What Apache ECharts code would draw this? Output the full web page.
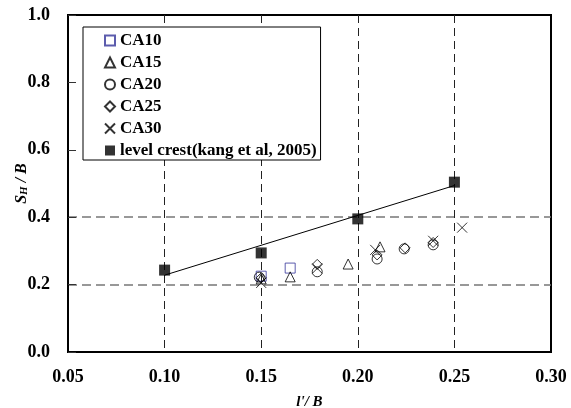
<!DOCTYPE html>
<html>
<head>
<meta charset="utf-8">
<script src="https://cdn.jsdelivr.net/npm/echarts@6/dist/echarts.min.js"></script>
<style>
  html, body { margin: 0; padding: 0; background: #fff; }
  #chart { width: 571px; height: 408px; }
</style>
</head>
<body>
<div id="chart"></div>
<script>
// values: [l'/B, S_H/B]
const ca10 = [[0.150, 0.225], [0.165, 0.249]]
const ca15 = [[0.150, 0.217], [0.165, 0.223], [0.195, 0.261], [0.2115, 0.312]]
const ca20 = [[0.149, 0.222], [0.179, 0.238], [0.210, 0.276], [0.224, 0.306], [0.239, 0.318]]
const ca25 = [[0.150, 0.220], [0.179, 0.260], [0.210, 0.288], [0.2245, 0.309], [0.239, 0.325]]
const ca30 = [[0.150, 0.205], [0.179, 0.248], [0.209, 0.303], [0.239, 0.330], [0.254, 0.369]]
const levelCrest = [[0.10, 0.243], [0.15, 0.294], [0.20, 0.395], [0.25, 0.504]]
const trendLine = [[0.10, 0.228], [0.25, 0.494]]

const seriesNames = ['CA10', 'CA15', 'CA20', 'CA25', 'CA30', 'level crest(kang et al, 2005)']
const crossPath = 'path://M0,0L10,10M10,0L0,10'
const font = 'Liberation Serif'
// only the 0.2 and 0.4 grid lines are drawn in the original
const hGridColors = ['rgba(0,0,0,0)', '#777', '#777', 'rgba(0,0,0,0)', 'rgba(0,0,0,0)', 'rgba(0,0,0,0)']

const chart = echarts.init(document.getElementById('chart'))

function openMarker (name, data, symbol, color) {
  return {
    name: name,
    type: 'scatter',
    data: data,
    symbol: symbol,
    symbolSize: 10,
    itemStyle: { color: 'rgba(0,0,0,0)', borderColor: color, borderWidth: 1 },
    z: 3
  }
}

chart.setOption({
  animation: false,
  textStyle: { fontFamily: font },
  grid: {
    left: 68, right: 20, top: 15, bottom: 56,
    outerBoundsMode: 'none',
    containLabel: false,
    show: true,
    borderColor: '#000',
    borderWidth: 2
  },
  legend: {
    orient: 'vertical',
    left: 83,
    top: 27,
    data: seriesNames,
    itemWidth: 10,
    itemHeight: 10,
    itemGap: 5,
    padding: [5, 4, 1, 21],
    backgroundColor: '#fff',
    borderColor: '#000',
    borderWidth: 1,
    textStyle: { fontFamily: font, fontWeight: 'bold', fontSize: 17, color: '#000' }
  },
  xAxis: {
    type: 'value',
    min: 0.05,
    max: 0.30,
    interval: 0.05,
    name: "l'/ B",
    nameLocation: 'middle',
    nameGap: 43,
    nameTextStyle: { fontFamily: font, fontStyle: 'italic', fontWeight: 'bold', fontSize: 15, color: '#000' },
    axisLine: { show: true, lineStyle: { color: '#000', width: 2 } },
    axisTick: { show: false },
    axisLabel: {
      margin: 16,
      fontFamily: font, fontWeight: 'bold', fontSize: 18, color: '#000',
      formatter: v => v.toFixed(2)
    },
    splitLine: {
      show: true,
      showMinLine: false,
      showMaxLine: false,
      lineStyle: { color: '#222', type: [8, 5], width: 1 }
    }
  },
  yAxis: {
    type: 'value',
    min: 0,
    max: 1,
    interval: 0.2,
    name: '{i|S}{sub|H}{n| / B}',
    nameLocation: 'middle',
    nameRotate: 90,
    nameGap: 38,
    nameMoveOverlap: false,
    nameTextStyle: {
      rich: {
        i: { fontFamily: font, fontStyle: 'italic', fontWeight: 'bold', fontSize: 16, color: '#000' },
        sub: { fontFamily: font, fontStyle: 'italic', fontWeight: 'bold', fontSize: 11, color: '#000', verticalAlign: 'bottom', padding: [6, 0, 0, 0] },
        n: { fontFamily: font, fontStyle: 'italic', fontWeight: 'bold', fontSize: 16, color: '#000' }
      }
    },
    axisLine: { show: true, lineStyle: { color: '#000', width: 2 } },
    axisTick: { show: true, inside: true, length: 8, lineStyle: { color: '#333', width: 1 } },
    axisLabel: {
      margin: 18,
      fontFamily: font, fontWeight: 'bold', fontSize: 18, color: '#000',
      formatter: v => v.toFixed(1)
    },
    splitLine: {
      show: true,
      showMinLine: true,
      showMaxLine: true,
      lineStyle: { color: hGridColors, type: [9, 5], width: 1.5 }
    }
  },
  series: [
    openMarker('CA10', ca10, 'rect', '#333399'),
    openMarker('CA15', ca15, 'triangle', '#000'),
    openMarker('CA20', ca20, 'circle', '#000'),
    openMarker('CA25', ca25, 'diamond', '#000'),
    openMarker('CA30', ca30, crossPath, '#000'),
    {
      name: 'level crest(kang et al, 2005)',
      type: 'scatter',
      data: levelCrest,
      symbol: 'rect',
      symbolSize: 11,
      itemStyle: { color: '#000' },
      z: 4
    },
    {
      name: 'trend',
      type: 'line',
      data: trendLine,
      showSymbol: false,
      symbol: 'none',
      lineStyle: { color: '#000', width: 1 },
      z: 2
    }
  ]
})
</script>
</body>
</html>
